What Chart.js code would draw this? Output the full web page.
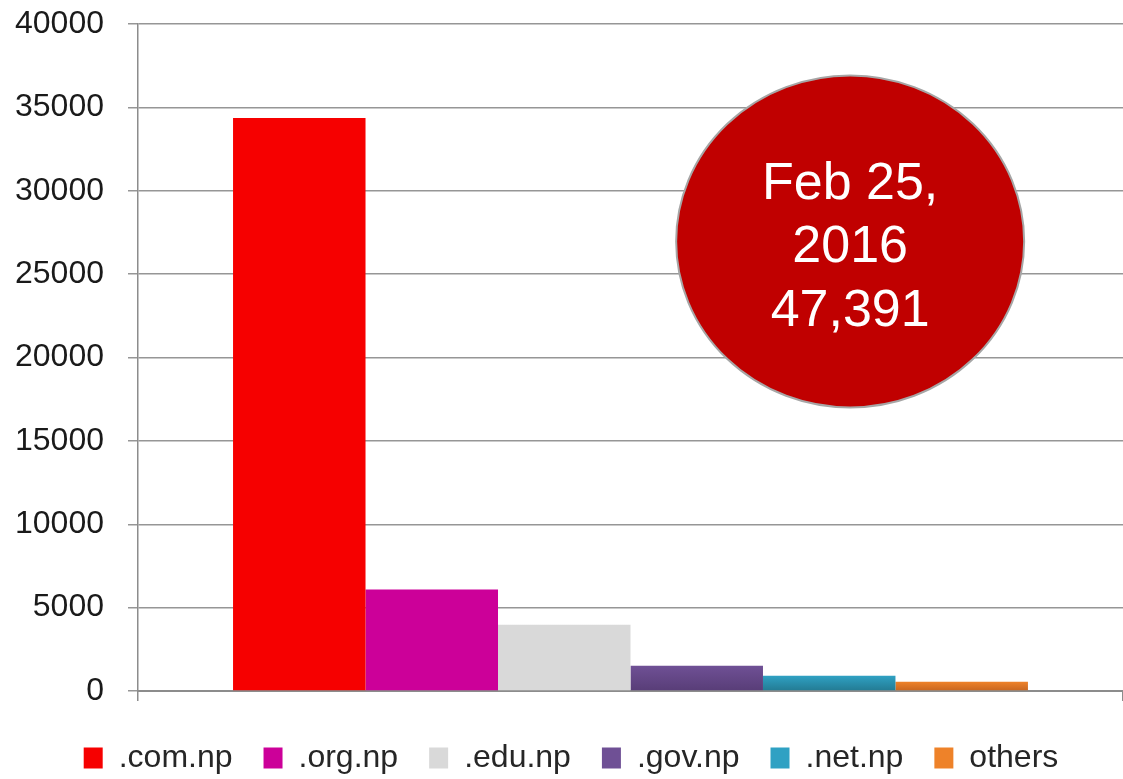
<!DOCTYPE html>
<html>
<head>
<meta charset="utf-8">
<script src="https://cdn.jsdelivr.net/npm/chart.js@4.4.0/dist/chart.umd.min.js"></script>
<style>
  html, body { margin: 0; padding: 0; background: #fff; }
  #wrap { width: 1123px; height: 779px; }
</style>
</head>
<body>
<div id="wrap"><canvas id="chart1" width="1123" height="779"></canvas></div>
<script>
const categories = ["Domains"];
const seriesNames = [".com.np", ".org.np", ".edu.np", ".gov.np", ".net.np", "others"];
const seriesValues = [34370, 6080, 3970, 1510, 910, 551];
const yTicks = [0, 5000, 10000, 15000, 20000, 25000, 30000, 35000, 40000];
const calloutLines = ["Feb 25,", "2016", "47,391"];

// top / bottom colours, bottom ones give the slight shading of the last bars
const colorsTop = ["#f60000", "#cc0099", "#d9d9d9", "#6f5095", "#2fa1c3", "#ee8229"];
const colorsBottom = ["#f60000", "#cc0099", "#d9d9d9", "#583d77", "#237a92", "#c7651f"];

const FONT = "'Liberation Sans', Arial, Helvetica, sans-serif";

function barFill(i) {
  return (context) => {
    const chart = context.chart;
    const area = chart.chartArea;
    const yScale = chart.scales.y;
    if (!area || !yScale || context.raw === undefined) return colorsTop[i];
    const top = yScale.getPixelForValue(context.raw);
    const bottom = yScale.getPixelForValue(0);
    if (bottom - top < 2) return colorsTop[i];
    const g = chart.ctx.createLinearGradient(0, top, 0, bottom);
    g.addColorStop(0, colorsTop[i]);
    g.addColorStop(1, colorsBottom[i]);
    return g;
  };
}

const datasets = seriesNames.map((name, i) => ({
  label: name,
  data: [seriesValues[i]],
  backgroundColor: barFill(i),
  borderWidth: 0,
  barPercentage: 1,
  categoryPercentage: 0.807,
}));

// red oval with the total
const callout = {
  id: "callout",
  afterDatasetsDraw(chart) {
    const { ctx, chartArea } = chart;
    const cx = chartArea.left + chartArea.width * 0.723;
    const cy = chartArea.top + chartArea.height * 0.326;
    ctx.save();
    ctx.beginPath();
    ctx.ellipse(cx, cy, 174, 166, 0, 0, Math.PI * 2);
    ctx.fillStyle = "#c00000";
    ctx.fill();
    ctx.lineWidth = 2;
    ctx.strokeStyle = "#a6a6a6";
    ctx.stroke();
    ctx.fillStyle = "#ffffff";
    ctx.font = "52px " + FONT;
    ctx.textAlign = "center";
    ctx.textBaseline = "middle";
    calloutLines.forEach((t, k) => {
      ctx.fillText(t, cx, cy - 57 + k * 63.5);
    });
    ctx.restore();
  },
};

// nudge the legend row to where it sits in the original
const legendShift = {
  id: "legendShift",
  afterLayout(chart) {
    const lg = chart.legend;
    if (!lg) return;
    lg.left += 14;
    lg.right += 14;
    lg.top += 10;
    lg.bottom += 10;
    if (lg.adjustHitBoxes) lg.adjustHitBoxes();
  },
};

const ctx = document.getElementById("chart1");

const chart = new Chart(ctx, {
  type: "bar",
  data: {
    labels: categories,
    datasets: datasets,
  },
  options: {
    responsive: false,
    animation: false,
    layout: {
      padding: { top: 24, right: 0, left: -9, bottom: 5 },
    },
    scales: {
      x: {
        ticks: { display: false },
        grid: {
          drawOnChartArea: false,
          color: "#8c8c8c",
          lineWidth: 1.5,
          tickLength: 10,
        },
        border: { color: "#8c8c8c", width: 2 },
      },
      y: {
        min: 0,
        max: 40000,
        afterBuildTicks: (axis) => {
          axis.ticks = yTicks.map((v) => ({ value: v }));
        },
        afterFit: (scale) => {
          // label padding should not push the plot down
          scale.paddingTop = 0;
          scale.paddingBottom = 0;
        },
        ticks: {
          color: "#1a1a1a",
          padding: 24,
          font: { size: 32, family: FONT },
          callback: (v) => String(v),
        },
        grid: {
          color: "#969696",
          lineWidth: 1.5,
          tickLength: 10,
        },
        border: { color: "#8c8c8c", width: 1.5 },
      },
    },
    plugins: {
      legend: {
        position: "bottom",
        labels: {
          color: "#262626",
          boxWidth: 19,
          boxHeight: 21,
          padding: 31,
          font: { size: 32, family: FONT },
          generateLabels: (c) =>
            seriesNames.map((name, i) => ({
              text: name,
              fillStyle: colorsTop[i],
              strokeStyle: colorsTop[i],
              lineWidth: 0,
              fontColor: "#262626",
              datasetIndex: i,
            })),
        },
      },
      tooltip: { enabled: false },
    },
  },
  plugins: [callout, legendShift],
});
</script>
</body>
</html>
